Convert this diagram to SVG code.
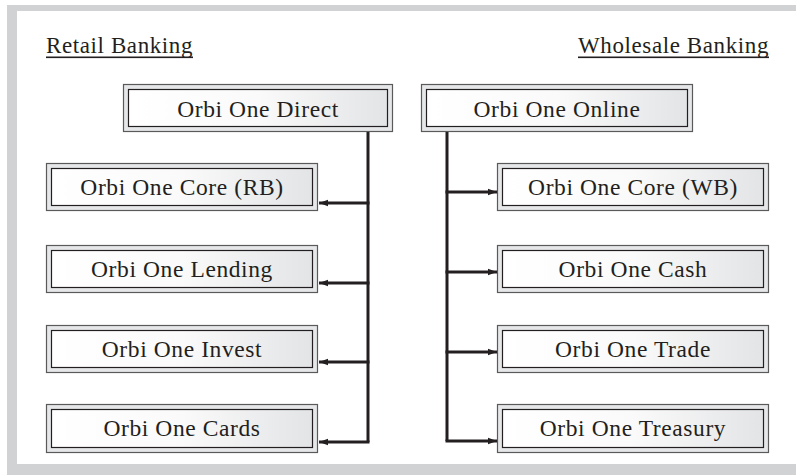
<svg xmlns="http://www.w3.org/2000/svg" width="796" height="475" viewBox="0 0 796 475">
<defs>
<linearGradient id="g" x1="0" y1="0" x2="1" y2="0">
<stop offset="0" stop-color="#ffffff"/>
<stop offset="0.5" stop-color="#fafafa"/>
<stop offset="1" stop-color="#e3e4e6"/>
</linearGradient>
<marker id="ah" markerUnits="userSpaceOnUse" markerWidth="10" markerHeight="8" refX="9" refY="4" orient="auto">
<path d="M0,0.8 L9,4 L0,7.2 Z" fill="#231f20"/>
</marker>
<style>
.outer{fill:#e6e7e8;stroke:#5a5a5a;stroke-width:1.2}
.inner{fill:url(#g);stroke:#231f20;stroke-width:1.2}
.t{font-family:"Liberation Serif","Times New Roman",serif;font-size:23.5px;fill:#231f20;letter-spacing:0.6px}
.tc{text-anchor:middle}
.h{font-family:"Liberation Serif","Times New Roman",serif;font-size:23px;fill:#231f20;letter-spacing:0.6px}
.c{fill:none;stroke:#231f20;stroke-width:3}
.frame{fill:#d1d2d4}
</style>
</defs>
<rect x="0" y="0" width="796" height="475" fill="#ffffff"/>
<rect class="frame" x="7" y="5" width="789" height="6"/>
<rect class="frame" x="7" y="5" width="10" height="470"/>
<rect class="frame" x="7" y="464" width="789" height="11"/>

<g id="header-retail">
<text class="h" x="46" y="53">Retail Banking</text>
<rect x="46" y="56.5" width="147" height="1.6" fill="#231f20"/>
</g>
<g id="header-wholesale">
<text class="h" x="769" y="53" text-anchor="end">Wholesale Banking</text>
<rect x="578" y="56.5" width="191" height="1.6" fill="#231f20"/>
</g>

<g id="n-direct">
<rect class="outer" x="123.5" y="84.5" width="269" height="47"/>
<rect class="inner" x="128.5" y="89.5" width="259" height="37"/>
<text class="t tc" x="258" y="117">Orbi One Direct</text>
</g>
<g id="n-online">
<rect class="outer" x="421.5" y="84.5" width="271" height="47"/>
<rect class="inner" x="426.5" y="89.5" width="261" height="37"/>
<text class="t tc" x="557" y="117">Orbi One Online</text>
</g>

<g id="n-core-rb">
<rect class="outer" x="46.5" y="163.5" width="271" height="47"/>
<rect class="inner" x="51.5" y="168.5" width="261" height="37"/>
<text class="t tc" x="182" y="195">Orbi One Core (RB)</text>
</g>
<g id="n-lending">
<rect class="outer" x="46.5" y="245.5" width="271" height="47"/>
<rect class="inner" x="51.5" y="250.5" width="261" height="37"/>
<text class="t tc" x="182" y="277">Orbi One Lending</text>
</g>
<g id="n-invest">
<rect class="outer" x="46.5" y="325.5" width="271" height="47"/>
<rect class="inner" x="51.5" y="330.5" width="261" height="37"/>
<text class="t tc" x="182" y="357">Orbi One Invest</text>
</g>
<g id="n-cards">
<rect class="outer" x="46.5" y="404.5" width="271" height="48"/>
<rect class="inner" x="51.5" y="409.5" width="261" height="38"/>
<text class="t tc" x="182" y="436">Orbi One Cards</text>
</g>

<g id="n-core-wb">
<rect class="outer" x="497.5" y="163.5" width="271" height="47"/>
<rect class="inner" x="502.5" y="168.5" width="261" height="37"/>
<text class="t tc" x="633" y="195">Orbi One Core (WB)</text>
</g>
<g id="n-cash">
<rect class="outer" x="497.5" y="245.5" width="271" height="47"/>
<rect class="inner" x="502.5" y="250.5" width="261" height="37"/>
<text class="t tc" x="633" y="277">Orbi One Cash</text>
</g>
<g id="n-trade">
<rect class="outer" x="497.5" y="325.5" width="271" height="47"/>
<rect class="inner" x="502.5" y="330.5" width="261" height="37"/>
<text class="t tc" x="633" y="357">Orbi One Trade</text>
</g>
<g id="n-treasury">
<rect class="outer" x="497.5" y="404.5" width="271" height="48"/>
<rect class="inner" x="502.5" y="409.5" width="261" height="38"/>
<text class="t tc" x="633" y="436">Orbi One Treasury</text>
</g>

<g id="connectors">
<path class="c" d="M368,132 V442"/>
<path class="c" d="M369.5,203 H319" marker-end="url(#ah)"/>
<path class="c" d="M369.5,283 H319" marker-end="url(#ah)"/>
<path class="c" d="M369.5,362 H319" marker-end="url(#ah)"/>
<path class="c" d="M369.5,442 H319" marker-end="url(#ah)"/>
<path class="c" d="M447,132 V441"/>
<path class="c" d="M445.5,192 H497" marker-end="url(#ah)"/>
<path class="c" d="M445.5,272 H497" marker-end="url(#ah)"/>
<path class="c" d="M445.5,352 H497" marker-end="url(#ah)"/>
<path class="c" d="M445.5,441 H497" marker-end="url(#ah)"/>
</g>
</svg>
